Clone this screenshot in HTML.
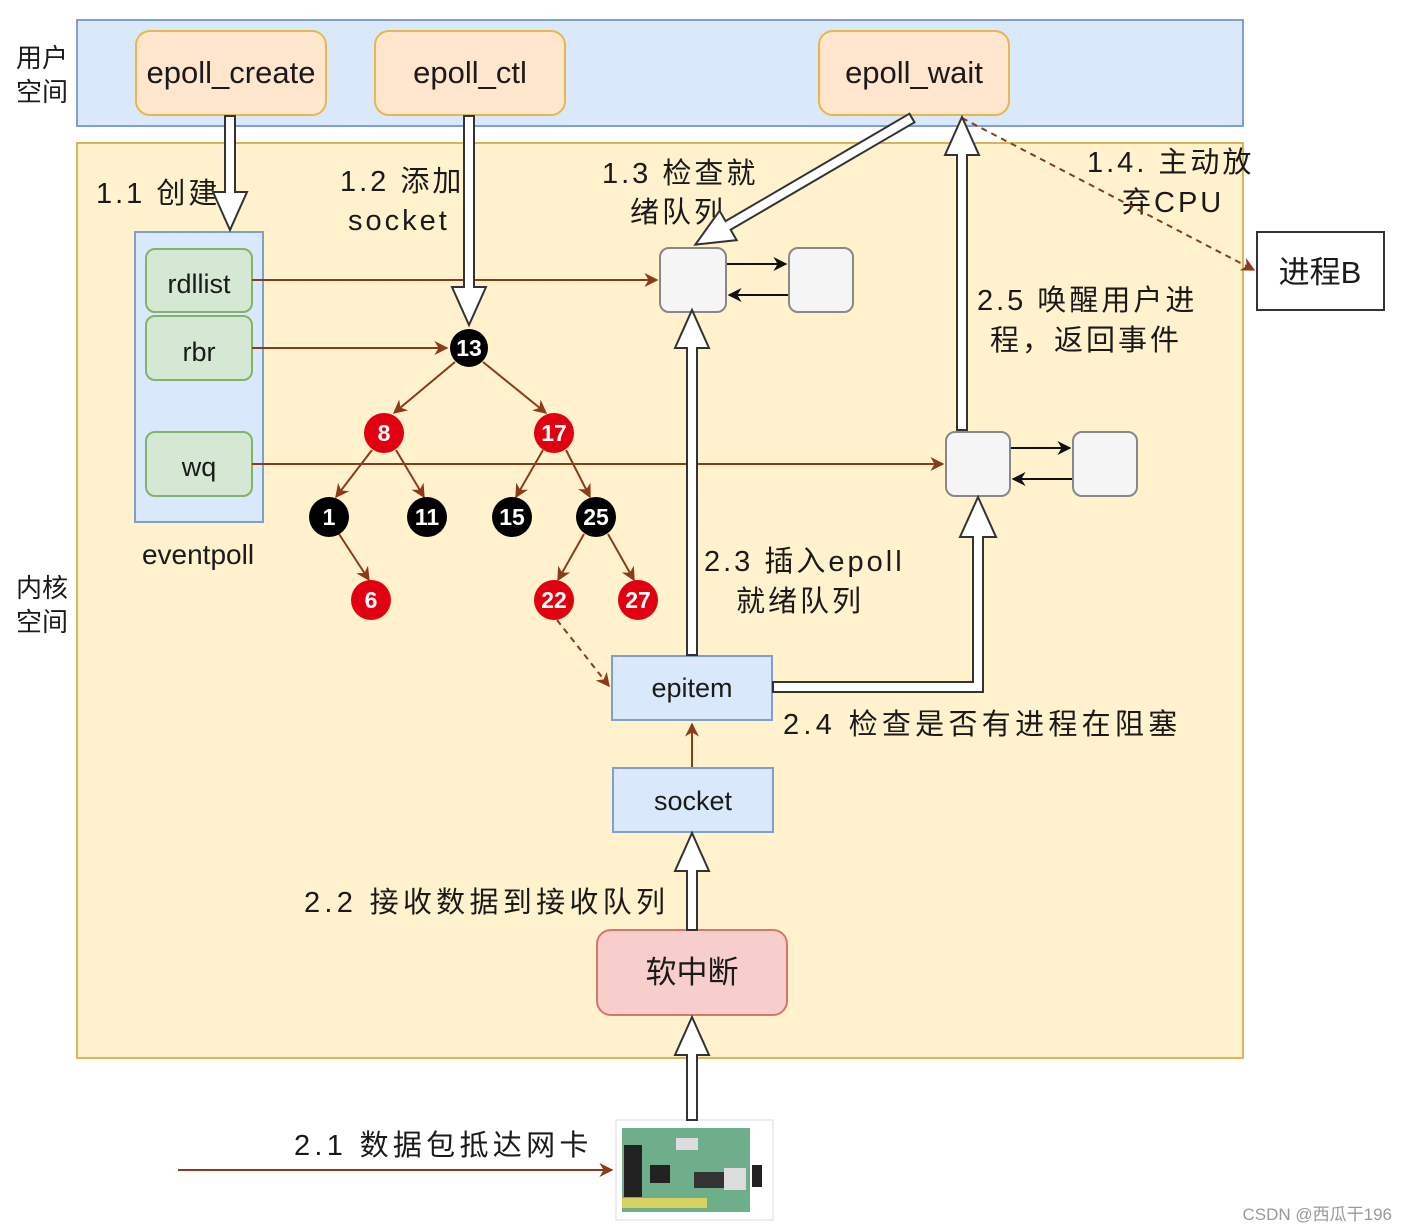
<!DOCTYPE html>
<html><head><meta charset="utf-8"><style>
html,body{margin:0;padding:0;background:#fff;}
svg{display:block;}
text{font-family:"Liberation Sans","Noto Sans CJK SC",sans-serif;fill:#1a1a1a;}
.l{letter-spacing:3px;}
.l4{letter-spacing:4.3px;}
</style></head><body>
<svg width="1407" height="1232" viewBox="0 0 1407 1232" xmlns="http://www.w3.org/2000/svg">
<defs>
<marker id="ah" viewBox="0 0 10 10" refX="9" refY="5" markerWidth="7" markerHeight="7" orient="auto"><path d="M0,0 L10,5 L0,10 L3,5 Z" fill="#8b3a1a"/></marker>
<marker id="bh" viewBox="0 0 10 10" refX="9" refY="5" markerWidth="7" markerHeight="7" orient="auto"><path d="M0,0 L10,5 L0,10 L3,5 Z" fill="#111"/></marker>
</defs>
<rect x="77" y="20" width="1166" height="106" fill="#dae8fc" stroke="#7f9fcf" stroke-width="2"/>
<rect x="77" y="143" width="1166" height="915" fill="#fff2cc" stroke="#d6b656" stroke-width="2"/>
<text x="42" y="67" font-size="26" text-anchor="middle" fill="#333">用户</text>
<text x="42" y="101" font-size="26" text-anchor="middle" fill="#333">空间</text>
<text x="42" y="597" font-size="26" text-anchor="middle" fill="#333">内核</text>
<text x="42" y="631" font-size="26" text-anchor="middle" fill="#333">空间</text>

<rect x="136" y="31" width="190" height="84" rx="14" fill="#ffe6cc" stroke="#e8b84a" stroke-width="2"/>
<text x="231" y="83" font-size="31" text-anchor="middle">epoll_create</text>
<rect x="375" y="31" width="190" height="84" rx="14" fill="#ffe6cc" stroke="#e8b84a" stroke-width="2"/>
<text x="470" y="83" font-size="31" text-anchor="middle">epoll_ctl</text>
<rect x="819" y="31" width="190" height="84" rx="14" fill="#ffe6cc" stroke="#e8b84a" stroke-width="2"/>
<text x="914" y="83" font-size="31" text-anchor="middle">epoll_wait</text>

<rect x="135" y="232" width="128" height="290" fill="#dae8fc" stroke="#7f9fcf" stroke-width="2"/>
<rect x="146" y="249" width="106" height="63" rx="9" fill="#d5e8d4" stroke="#82b366" stroke-width="2"/>
<text x="199" y="293" font-size="27" text-anchor="middle">rdllist</text>
<rect x="146" y="316" width="106" height="64" rx="9" fill="#d5e8d4" stroke="#82b366" stroke-width="2"/>
<text x="199" y="361" font-size="27" text-anchor="middle">rbr</text>
<rect x="146" y="432" width="106" height="64" rx="9" fill="#d5e8d4" stroke="#82b366" stroke-width="2"/>
<text x="199" y="476" font-size="27" text-anchor="middle">wq</text>
<text x="198" y="564" font-size="28" text-anchor="middle">eventpoll</text>

<text class="l" x="96" y="203" font-size="29">1.1 创建</text>
<text class="l" x="340" y="191" font-size="29">1.2 添加</text>
<text class="l" x="348" y="230" font-size="29">socket</text>
<text class="l" x="602" y="183" font-size="29">1.3 检查就</text>
<text class="l" x="630" y="222" font-size="29">绪队列</text>
<text class="l" x="1087" y="172" font-size="29">1.4. 主动放</text>
<text class="l" x="1122" y="212" font-size="29">弃CPU</text>
<text class="l" x="977" y="310" font-size="29">2.5 唤醒用户进</text>
<text class="l" x="990" y="350" font-size="29">程，返回事件</text>
<text class="l" x="704" y="571" font-size="29">2.3 插入epoll</text>
<text class="l" x="736" y="611" font-size="29">就绪队列</text>
<text class="l4" x="783" y="734" font-size="29">2.4 检查是否有进程在阻塞</text>
<text class="l4" x="304" y="912" font-size="29">2.2 接收数据到接收队列</text>
<text class="l4" x="294" y="1155" font-size="29">2.1 数据包抵达网卡</text>

<rect x="1257" y="232" width="127" height="78" fill="#fff" stroke="#333" stroke-width="2"/>
<text x="1320" y="283" font-size="31" text-anchor="middle">进程B</text>

<rect x="660" y="248" width="66" height="64" rx="9" fill="#f5f5f5" stroke="#888" stroke-width="2"/>
<rect x="789" y="248" width="64" height="64" rx="9" fill="#f5f5f5" stroke="#888" stroke-width="2"/>
<line x1="727" y1="264" x2="786" y2="264" stroke="#111" stroke-width="2" marker-end="url(#bh)"/>
<line x1="788" y1="295" x2="729" y2="295" stroke="#111" stroke-width="2" marker-end="url(#bh)"/>
<rect x="946" y="432" width="64" height="64" rx="9" fill="#f5f5f5" stroke="#888" stroke-width="2"/>
<rect x="1073" y="432" width="64" height="64" rx="9" fill="#f5f5f5" stroke="#888" stroke-width="2"/>
<line x1="1011" y1="448" x2="1070" y2="448" stroke="#111" stroke-width="2" marker-end="url(#bh)"/>
<line x1="1072" y1="479" x2="1013" y2="479" stroke="#111" stroke-width="2" marker-end="url(#bh)"/>

<g stroke="#8b3a1a" stroke-width="2" fill="none">
<line x1="252" y1="280" x2="657" y2="280" marker-end="url(#ah)"/>
<line x1="252" y1="348" x2="447" y2="348" marker-end="url(#ah)"/>
<line x1="252" y1="464" x2="943" y2="464" marker-end="url(#ah)"/>
<line x1="455" y1="362" x2="394" y2="413" marker-end="url(#ah)"/>
<line x1="483" y1="362" x2="546" y2="413" marker-end="url(#ah)"/>
<line x1="372" y1="450" x2="336" y2="497" marker-end="url(#ah)"/>
<line x1="396" y1="450" x2="424" y2="497" marker-end="url(#ah)"/>
<line x1="543" y1="450" x2="516" y2="497" marker-end="url(#ah)"/>
<line x1="566" y1="450" x2="590" y2="497" marker-end="url(#ah)"/>
<line x1="339" y1="534" x2="369" y2="580" marker-end="url(#ah)"/>
<line x1="584" y1="534" x2="558" y2="580" marker-end="url(#ah)"/>
<line x1="608" y1="534" x2="634" y2="580" marker-end="url(#ah)"/>
<line x1="692" y1="768" x2="692" y2="724" marker-end="url(#ah)"/>
<line x1="178" y1="1170" x2="612" y2="1170" marker-end="url(#ah)"/>
<line x1="557" y1="620" x2="609" y2="686" stroke-dasharray="6,5" marker-end="url(#ah)"/>
<line x1="962" y1="118" x2="1254" y2="270" stroke-dasharray="6,5" marker-end="url(#ah)"/>
</g>

<g font-size="23" font-weight="bold" text-anchor="middle">
<circle cx="469" cy="348" r="19" fill="#000"/><text x="469" y="356" style="fill:#fff">13</text>
<circle cx="384" cy="433" r="20" fill="#e0000f"/><text x="384" y="441" style="fill:#fff">8</text>
<circle cx="554" cy="433" r="20" fill="#e0000f"/><text x="554" y="441" style="fill:#fff">17</text>
<circle cx="329" cy="517" r="20" fill="#000"/><text x="329" y="525" style="fill:#fff">1</text>
<circle cx="427" cy="517" r="20" fill="#000"/><text x="427" y="525" style="fill:#fff">11</text>
<circle cx="512" cy="517" r="20" fill="#000"/><text x="512" y="525" style="fill:#fff">15</text>
<circle cx="596" cy="517" r="20" fill="#000"/><text x="596" y="525" style="fill:#fff">25</text>
<circle cx="371" cy="600" r="20" fill="#e0000f"/><text x="371" y="608" style="fill:#fff">6</text>
<circle cx="554" cy="600" r="20" fill="#e0000f"/><text x="554" y="608" style="fill:#fff">22</text>
<circle cx="638" cy="600" r="20" fill="#e0000f"/><text x="638" y="608" style="fill:#fff">27</text>
</g>

<rect x="612" y="656" width="160" height="64" fill="#dae8fc" stroke="#7f9fcf" stroke-width="2"/>
<text x="692" y="697" font-size="27" text-anchor="middle">epitem</text>
<rect x="613" y="768" width="160" height="64" fill="#dae8fc" stroke="#7f9fcf" stroke-width="2"/>
<text x="693" y="810" font-size="27" text-anchor="middle">socket</text>
<rect x="597" y="930" width="190" height="85" rx="14" fill="#f8cecc" stroke="#d9756f" stroke-width="2"/>
<text x="692" y="983" font-size="31" text-anchor="middle">软中断</text>

<rect x="616" y="1120" width="157" height="100" fill="#fff" stroke="#ddd"/>
<rect x="622" y="1128" width="128" height="84" fill="#6fae8a"/>
<rect x="622" y="1198" width="85" height="10" fill="#d8d060"/>
<rect x="624" y="1145" width="18" height="52" fill="#222"/>
<rect x="650" y="1165" width="20" height="18" fill="#222"/>
<rect x="694" y="1172" width="30" height="16" fill="#333"/>
<rect x="724" y="1168" width="22" height="22" fill="#ddd"/>
<rect x="676" y="1138" width="22" height="12" fill="#ddd"/>
<rect x="752" y="1165" width="10" height="22" fill="#222"/>

<g fill="#fff" stroke="#333" stroke-width="2" stroke-linejoin="miter">
<polygon transform="translate(230,116) rotate(90)" points="0,-5 76,-5 76,-17 114,0 76,17 76,5 0,5"/>
<polygon transform="translate(469,116) rotate(90)" points="0,-5 171,-5 171,-17 209,0 171,17 171,5 0,5"/>
<polygon transform="translate(912,118) rotate(149.7)" points="0,-5 213,-5 213,-17 251,0 213,17 213,5 0,5"/>
<polygon transform="translate(692,655) rotate(-90)" points="0,-5 307,-5 307,-17 345,0 307,17 307,5 0,5"/>
<polygon transform="translate(962,430) rotate(-90)" points="0,-5 275,-5 275,-17 313,0 275,17 275,5 0,5"/>
<polygon transform="translate(692,930) rotate(-90)" points="0,-5 59,-5 59,-17 97,0 59,17 59,5 0,5"/>
<polygon transform="translate(692,1120) rotate(-90)" points="0,-5 65,-5 65,-17 103,0 65,17 65,5 0,5"/>
<polygon points="773,682 973,682 973,537 960,537 978,497 996,537 983,537 983,692 773,692"/>
</g>

<text x="1392" y="1220" font-size="17" text-anchor="end" style="fill:#999">CSDN @西瓜干196</text>
</svg>
</body></html>
